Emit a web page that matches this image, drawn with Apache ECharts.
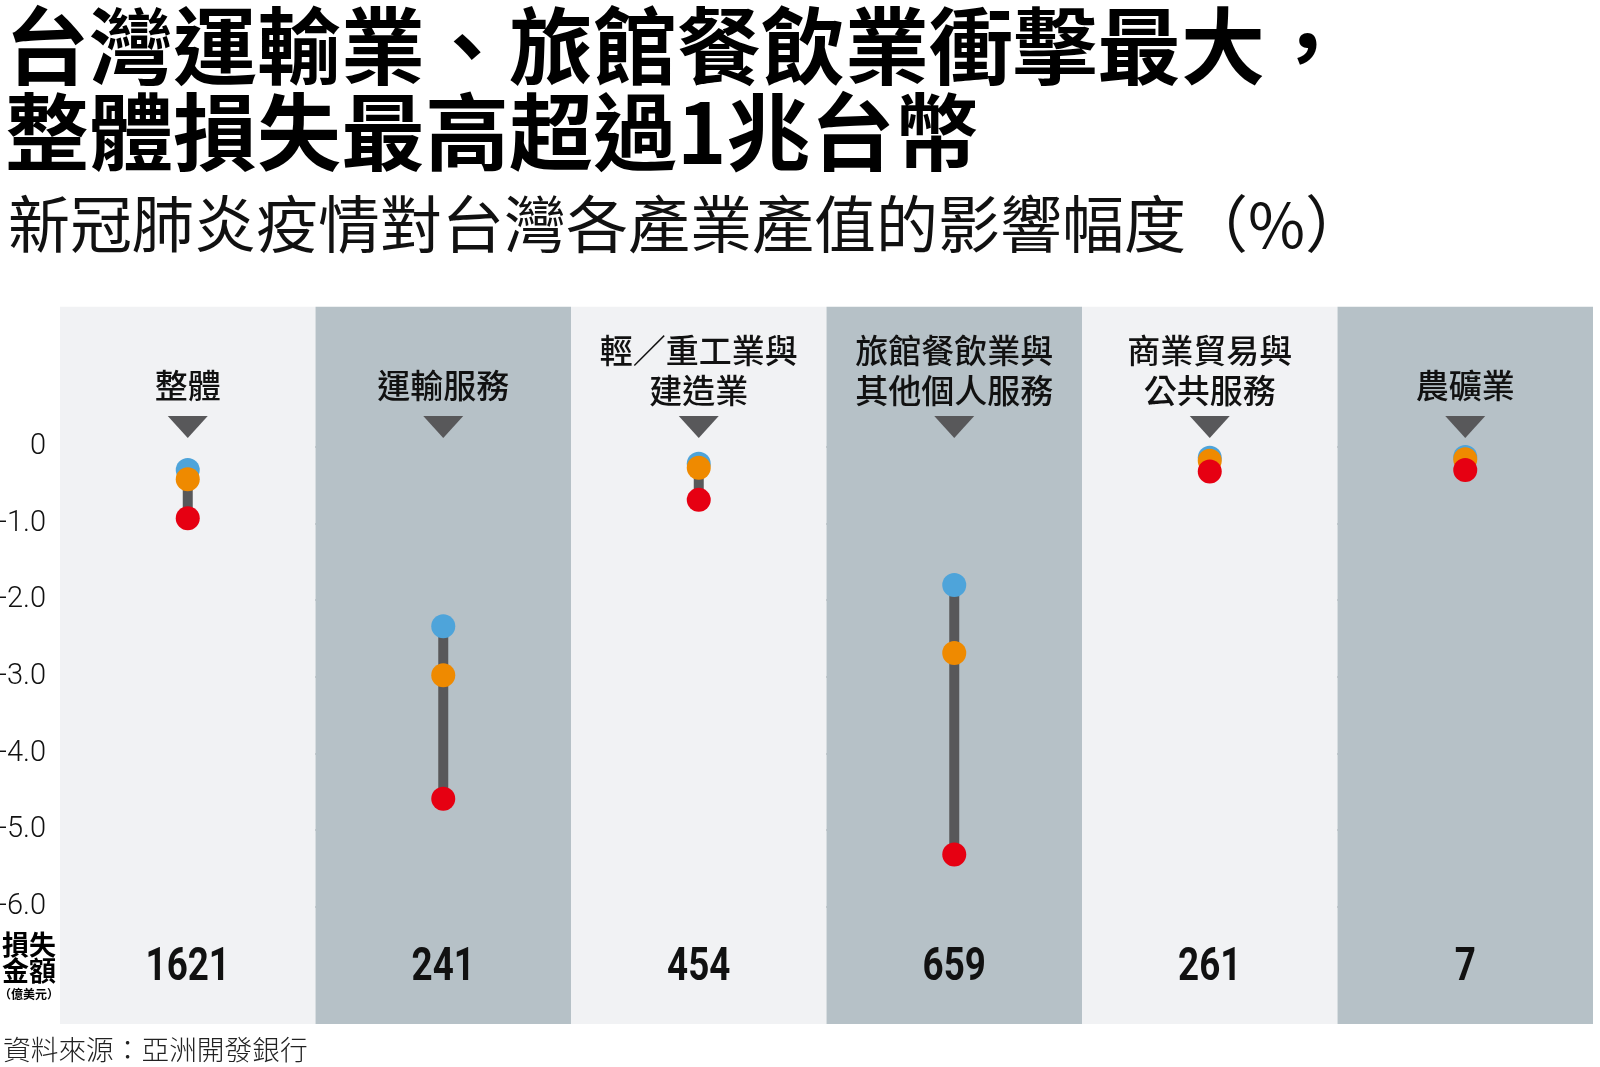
<!DOCTYPE html>
<html>
<head>
<meta charset="utf-8">
<script src="https://cdn.jsdelivr.net/npm/echarts@6/dist/echarts.min.js"></script>
<style>
html,body{margin:0;padding:0;background:#fff;}
#chart{width:1600px;height:1067px;}
</style>
</head>
<body>
<div id="chart"></div>
<script>
// ---- data ----
const categories = ['整體', '運輸服務', '輕／重工業與\n建造業', '旅館餐飲業與\n其他個人服務', '商業貿易與\n公共服務', '農礦業'];
const seriesBlue   = [-0.30, -2.34, -0.22, -1.80, -0.14, -0.13];
const seriesOrange = [-0.42, -2.98, -0.27, -2.69, -0.18, -0.16];
const seriesRed    = [-0.93, -4.59, -0.69, -5.32, -0.32, -0.30];
const lossAmounts  = ['1621', '241', '454', '659', '261', '7'];
const yTicks = { min: -6, max: 0, interval: 1 };

// ---- layout constants (value units) ----
const PANEL_TOP = 1.83;
const PANEL_BOTTOM = -7.53;
const TRI_Y = 0.26;
const LOSS_Y = -6.81;

const CJK = "'Noto Sans CJK TC', 'Noto Sans CJK SC', sans-serif";

const chart = echarts.init(document.getElementById('chart'), null, { renderer: 'canvas' });

const catIdx = categories.map((c, i) => i);

const option = {
  backgroundColor: '#ffffff',
  animation: false,
  title: [
    {
      text: '台灣運輸業、旅館餐飲業衝擊最大，\n整體損失最高超過1兆台幣',
      left: 5, top: 3, padding: 0,
      textStyle: { fontFamily: CJK, fontSize: 84, fontWeight: 700, lineHeight: 86, color: '#000' }
    },
    {
      text: '新冠肺炎疫情對台灣各產業產值的影響幅度（%）',
      left: 8, top: 189, padding: 0,
      textStyle: { fontFamily: CJK, fontSize: 62, fontWeight: 400, lineHeight: 70, color: '#111' }
    },
    {
      text: '資料來源：亞洲開發銀行',
      left: 3, top: 1033, padding: 0,
      textStyle: { fontFamily: CJK, fontSize: 27.7, fontWeight: 300, lineHeight: 32, color: '#222' }
    }
  ],
  graphic: [
    {
      type: 'text', x: 29, y: 932,
      style: {
        text: '{a|損失}\n{a|金額}\n{b|（億美元）}',
        align: 'center', verticalAlign: 'top',
        rich: {
          a: { fontFamily: CJK, fontSize: 27, fontWeight: 700, lineHeight: 26, fill: '#000', align: 'center' },
          b: { fontFamily: CJK, fontSize: 12, fontWeight: 700, lineHeight: 20, fill: '#000', align: 'center' }
        }
      }
    }
  ],
  grid: { left: 60, right: 7, top: 447, bottom: 160.3, containLabel: false, outerBoundsMode: 'none' },
  xAxis: [
    {
      type: 'category', data: categories, position: 'top',
      axisLine: { show: false }, axisTick: { show: false }, splitLine: { show: false },
      axisLabel: {
        interval: 0, margin: 37, verticalAlign: 'bottom',
        fontFamily: CJK, fontSize: 33, fontWeight: 500, lineHeight: 40, color: '#111',
        formatter: v => v.indexOf('\n') < 0 ? '{s|' + v + '}' : v,
        rich: { s: { fontFamily: CJK, fontSize: 33, fontWeight: 500, lineHeight: 40, color: '#111', padding: [0, 0, 9, 0] } }
      }
    }
  ],
  yAxis: {
    type: 'value', min: yTicks.min, max: yTicks.max, interval: yTicks.interval,
    axisLine: { show: false }, axisTick: { show: false },
    splitLine: { show: true, lineStyle: { color: '#9fa6ab', width: 2 } },
    axisLabel: {
      margin: 14, fontFamily: 'Roboto, sans-serif', fontSize: 29, fontWeight: 300, color: '#111',
      padding: [6, 0, 0, 0],
      formatter: v => v === 0 ? '0' : v.toFixed(1)
    }
  },
  series: [
    {
      type: 'custom', name: 'panels', z: 0, silent: true, clip: false,
      data: catIdx.map(i => [i]),
      encode: { x: 0 },
      renderItem: (params, api) => {
        const i = api.value(0);
        const cx = api.coord([i, 0])[0];
        const w = api.size([1, 0])[0];
        const top = api.coord([i, PANEL_TOP])[1];
        const bot = api.coord([i, PANEL_BOTTOM])[1];
        return {
          type: 'rect',
          shape: { x: cx - w / 2, y: top, width: w, height: bot - top },
          style: { fill: i % 2 === 0 ? '#f1f2f4' : '#b6c1c7' },
          z2: 0
        };
      }
    },
    {
      type: 'custom', name: 'loss', z: 3, silent: true, clip: false,
      data: catIdx.map(i => [i, LOSS_Y]),
      encode: { x: 0, y: 1 },
      renderItem: (params, api) => {
        const p = api.coord([api.value(0), api.value(1)]);
        return {
          type: 'text', x: p[0], y: p[1], scaleX: 0.8,
          style: {
            text: lossAmounts[params.dataIndex],
            fill: '#111', align: 'center', verticalAlign: 'middle',
            font: "700 46px Roboto, 'Noto Sans', sans-serif"
          }
        };
      }
    },
    {
      type: 'scatter', name: 'markers', symbol: 'triangle', symbolRotate: 180,
      symbolSize: [40, 22], clip: false, silent: true, z: 3,
      itemStyle: { color: '#58585a', opacity: 1 },
      data: catIdx.map(i => [i, TRI_Y])
    },
    {
      type: 'custom', name: 'range', z: 4, silent: true, clip: false,
      data: catIdx.map(i => [i, seriesBlue[i], seriesRed[i]]),
      encode: { x: 0, y: [1, 2] },
      renderItem: (params, api) => {
        const p1 = api.coord([api.value(0), api.value(1)]);
        const p2 = api.coord([api.value(0), api.value(2)]);
        return {
          type: 'line',
          shape: { x1: p1[0], y1: p1[1], x2: p2[0], y2: p2[1] },
          style: { stroke: '#58585a', lineWidth: 10 }
        };
      }
    },
    {
      type: 'scatter', name: 'blue', symbolSize: 24, z: 5, clip: false,
      itemStyle: { color: '#4ea4da', opacity: 1 },
      data: catIdx.map(i => [i, seriesBlue[i]])
    },
    {
      type: 'scatter', name: 'orange', symbolSize: 24, z: 6, clip: false,
      itemStyle: { color: '#ef8a00', opacity: 1 },
      data: catIdx.map(i => [i, seriesOrange[i]])
    },
    {
      type: 'scatter', name: 'red', symbolSize: 24, z: 7, clip: false,
      itemStyle: { color: '#e60012', opacity: 1 },
      data: catIdx.map(i => [i, seriesRed[i]])
    }
  ]
};

chart.setOption(option);
</script>
</body>
</html>
